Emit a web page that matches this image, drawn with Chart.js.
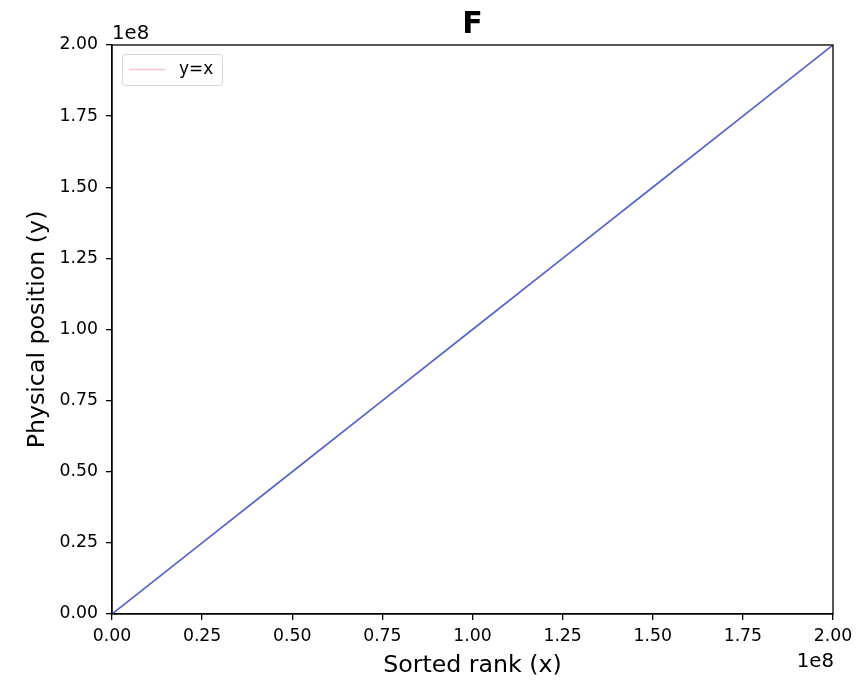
<!DOCTYPE html>
<html>
<head>
<meta charset="utf-8">
<script src="https://cdn.jsdelivr.net/npm/chart.js@4/dist/chart.umd.min.js"></script>
<style>
  html, body { margin: 0; padding: 0; background: #fff; }
  #wrap { width: 856px; height: 681px; }
</style>
</head>
<body>
<div id="wrap"><canvas id="c" width="856" height="681"></canvas></div>
<script>
// Sorted rank vs physical position, values in units of 1e8
const sortedRank = [0, 0.25e8, 0.5e8, 0.75e8, 1.0e8, 1.25e8, 1.5e8, 1.75e8, 2.0e8];
const physicalPosition = [0, 0.25e8, 0.5e8, 0.75e8, 1.0e8, 1.25e8, 1.5e8, 1.75e8, 2.0e8];
// Reference diagonal
const diagX = [0, 2.0e8];
const diagY = [0, 2.0e8];
const tickValues = [0, 0.25e8, 0.5e8, 0.75e8, 1.0e8, 1.25e8, 1.5e8, 1.75e8, 2.0e8];
const axisMin = 0, axisMax = 2.0e8, tickStep = 0.25e8;

const FONT = "'DejaVu Sans', sans-serif";
const BLUE = '#5568d0';
const PINK = '#ffc0cb';
const TICK_SIZE = 17.3;

const toPts = (xs, ys) => xs.map((x, i) => ({ x: x, y: ys[i] }));
const fmt = v => (v / 1e8).toFixed(2);

// Frame, titles, offset labels and legend
const decor = {
  id: 'decor',
  afterDraw(chart) {
    const { ctx, chartArea: a } = chart;
    ctx.save();
    ctx.strokeStyle = '#000';
    ctx.lineWidth = 1.3;
    ctx.strokeRect(a.left, a.top, a.right - a.left, a.bottom - a.top);

    ctx.fillStyle = '#000';
    ctx.textAlign = 'center';
    ctx.textBaseline = 'alphabetic';
    ctx.font = 'bold 30px ' + FONT;
    ctx.fillText('F', (a.left + a.right) / 2, 33);

    ctx.font = '23.7px ' + FONT;
    ctx.fillText('Sorted rank (x)', (a.left + a.right) / 2, 672);
    ctx.save();
    ctx.translate(44, (a.top + a.bottom) / 2);
    ctx.rotate(-Math.PI / 2);
    ctx.fillText('Physical position (y)', 0, 0);
    ctx.restore();

    ctx.font = '19.7px ' + FONT;
    ctx.textAlign = 'left';
    ctx.fillText('1e8', a.left, 39);
    ctx.textAlign = 'right';
    ctx.fillText('1e8', a.right + 1, 667);

    // legend
    const lx = 122, ly = 54, lw = 100, lh = 31;
    ctx.fillStyle = 'rgba(255,255,255,0.8)';
    ctx.strokeStyle = '#d6d6d6';
    ctx.lineWidth = 1;
    ctx.beginPath();
    ctx.roundRect(lx + 0.5, ly + 0.5, lw, lh, 3);
    ctx.fill();
    ctx.stroke();
    ctx.strokeStyle = PINK;
    ctx.lineWidth = 1.3;
    ctx.beginPath();
    ctx.moveTo(129, ly + 15.5);
    ctx.lineTo(165, ly + 15.5);
    ctx.stroke();
    ctx.fillStyle = '#000';
    ctx.textAlign = 'left';
    ctx.textBaseline = 'middle';
    ctx.font = '17px ' + FONT;
    ctx.fillText('y=x', 179, ly + 16);
    ctx.restore();
  }
};

const axisCommon = {
  type: 'linear',
  min: axisMin,
  max: axisMax,
  grid: { display: true, drawOnChartArea: false, drawTicks: true, tickLength: 6, color: '#000', lineWidth: 1.3 },
  border: { display: true, color: '#000', width: 1.3 },
  afterBuildTicks(scale) { scale.ticks = tickValues.map(v => ({ value: v })); },
};

new Chart(document.getElementById('c'), {
  type: 'scatter',
  data: {
    datasets: [
      {
        label: 'data',
        data: toPts(sortedRank, physicalPosition),
        showLine: true,
        borderColor: BLUE,
        borderWidth: 1.7,
        pointRadius: 0,
        order: 0
      },
      {
        label: 'y=x',
        data: toPts(diagX, diagY),
        showLine: true,
        borderColor: PINK,
        borderWidth: 1.3,
        pointRadius: 0,
        order: 1
      }
    ]
  },
  options: {
    responsive: false,
    animation: false,
    layout: { padding: { left: 0, right: 23, top: 45, bottom: 0 } },
    plugins: { legend: { display: false }, tooltip: { enabled: false }, title: { display: false } },
    scales: {
      x: Object.assign({}, axisCommon, {
        position: 'bottom',
        ticks: { stepSize: tickStep, color: '#000', font: { family: FONT, size: TICK_SIZE }, padding: 6, maxRotation: 0, callback: v => fmt(v) },
        afterFit(s) { s.height = 67; s.paddingLeft = 0; s.paddingRight = 0; }
      }),
      y: Object.assign({}, axisCommon, {
        position: 'left',
        ticks: { stepSize: tickStep, color: '#000', font: { family: FONT, size: TICK_SIZE }, padding: 8, callback: v => fmt(v) },
        afterFit(s) { s.width = 112; s.paddingTop = 0; s.paddingBottom = 0; }
      })
    }
  },
  plugins: [decor]
});
</script>
</body>
</html>
